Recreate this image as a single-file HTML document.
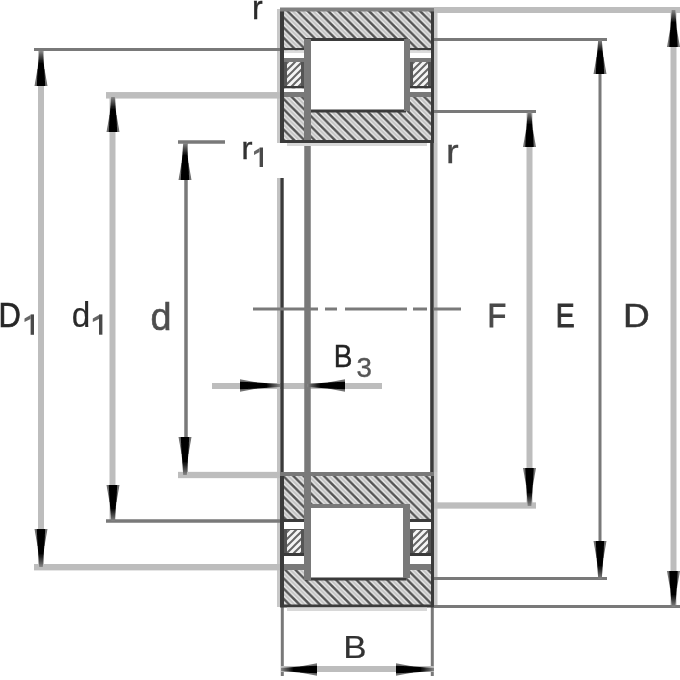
<!DOCTYPE html>
<html><head><meta charset="utf-8"><style>
html,body{margin:0;padding:0;background:#fff;}
svg{display:block;}
text{font-family:"Liberation Sans",sans-serif;}
</style></head><body>
<svg width="680" height="680" viewBox="0 0 680 680">
<defs>
<pattern id="h1" patternUnits="userSpaceOnUse" width="10.2" height="10.2" patternTransform="translate(1,0)">
<rect width="10.2" height="10.2" fill="#f4f4f4"/>
<path d="M-3,2.0999999999999996 L8.1,13.2 M2.0999999999999996,-3 L13.2,8.1" stroke="#c4c4c4" stroke-width="2.2"/>
<path d="M-3,-3 L13.2,13.2 M-3,7.199999999999999 L3,13.2 M7.199999999999999,-3 L13.2,3" stroke="#555" stroke-width="2.5"/>
</pattern>
<pattern id="h2" patternUnits="userSpaceOnUse" width="7" height="7">
<rect width="7" height="7" fill="#f4f4f4"/>
<path d="M-2,9 L9,-2 M-2,2 L2,-2 M5,9 L9,5" stroke="#666" stroke-width="2"/>
</pattern>
<linearGradient id="gv_u" x1="0" y1="0" x2="0" y2="1"><stop offset="0" stop-color="#888"/><stop offset="0.35" stop-color="#000"/><stop offset="1" stop-color="#000"/></linearGradient>
<linearGradient id="gv_d" x1="0" y1="1" x2="0" y2="0"><stop offset="0" stop-color="#888"/><stop offset="0.35" stop-color="#000"/><stop offset="1" stop-color="#000"/></linearGradient>
<linearGradient id="gh_l" x1="0" y1="0" x2="1" y2="0"><stop offset="0" stop-color="#888"/><stop offset="0.35" stop-color="#000"/><stop offset="1" stop-color="#000"/></linearGradient>
<linearGradient id="gh_r" x1="1" y1="0" x2="0" y2="0"><stop offset="0" stop-color="#888"/><stop offset="0.35" stop-color="#000"/><stop offset="1" stop-color="#000"/></linearGradient>
<filter id="soft" x="-5%" y="-5%" width="110%" height="110%"><feGaussianBlur stdDeviation="0.4"/></filter>
<filter id="glob" x="0" y="0" width="680" height="680" filterUnits="userSpaceOnUse"><feGaussianBlur stdDeviation="0.45"/></filter>
</defs>
<rect width="680" height="680" fill="#fff"/>
<g filter="url(#glob)">
<g>
<rect x="277.00" y="9.00" width="3.00" height="134.00" fill="#c8c8c8"/>
<rect x="434.00" y="9.00" width="3.50" height="134.00" fill="#c8c8c8"/>
<rect x="277.00" y="472.00" width="3.00" height="135.00" fill="#c8c8c8"/>
<rect x="434.00" y="472.00" width="3.50" height="135.00" fill="#c8c8c8"/>
<rect x="38.00" y="51.00" width="6.00" height="515.00" fill="#bdbdbd"/>
<rect x="34.00" y="48.00" width="246.00" height="3.00" fill="#797979"/>
<rect x="34.00" y="564.00" width="246.00" height="6.40" fill="#bdbdbd"/>
<rect x="109.50" y="97.00" width="6.00" height="423.00" fill="#bdbdbd"/>
<rect x="106.00" y="92.05" width="174.00" height="6.50" fill="#bdbdbd"/>
<rect x="106.00" y="519.25" width="174.00" height="3.50" fill="#797979"/>
<rect x="184.25" y="143.00" width="3.50" height="331.00" fill="#797979"/>
<rect x="178.00" y="140.25" width="47.00" height="3.50" fill="#797979"/>
<rect x="178.00" y="471.85" width="102.00" height="6.30" fill="#bdbdbd"/>
<rect x="526.50" y="112.00" width="6.00" height="394.00" fill="#bdbdbd"/>
<rect x="434.00" y="110.00" width="102.00" height="3.00" fill="#797979"/>
<rect x="434.00" y="502.35" width="102.00" height="6.30" fill="#bdbdbd"/>
<rect x="598.50" y="40.00" width="3.00" height="539.00" fill="#797979"/>
<rect x="434.00" y="38.00" width="173.00" height="3.00" fill="#797979"/>
<rect x="434.00" y="577.00" width="173.00" height="3.00" fill="#797979"/>
<rect x="670.50" y="10.00" width="6.00" height="597.00" fill="#bdbdbd"/>
<rect x="434.00" y="7.00" width="246.00" height="6.00" fill="#bdbdbd"/>
<rect x="434.00" y="605.00" width="246.00" height="3.00" fill="#797979"/>
<rect x="212.00" y="383.00" width="170.00" height="6.00" fill="#bdbdbd"/>
<rect x="277.00" y="178.00" width="3.00" height="294.00" fill="#c2c2c2"/>
<rect x="280.30" y="178.00" width="3.40" height="294.00" fill="#3a3a3a"/>
<rect x="304.25" y="143.00" width="6.50" height="329.00" fill="#797979"/>
<rect x="430.20" y="143.00" width="3.60" height="329.00" fill="#3a3a3a"/>
<rect x="433.90" y="143.00" width="3.60" height="329.00" fill="#c4c4c4"/>
<rect x="280.80" y="607.00" width="3.00" height="69.00" fill="#797979"/>
<rect x="430.80" y="607.00" width="3.00" height="69.00" fill="#797979"/>
<rect x="281.00" y="666.00" width="153.00" height="6.00" fill="#bdbdbd"/>
<rect x="253.00" y="307.50" width="65.00" height="3.00" fill="#7a7a7a"/>
<rect x="325.00" y="307.50" width="12.00" height="3.00" fill="#7a7a7a"/>
<rect x="345.00" y="307.50" width="62.00" height="3.00" fill="#7a7a7a"/>
<rect x="413.00" y="307.50" width="14.00" height="3.00" fill="#7a7a7a"/>
<rect x="434.00" y="307.50" width="27.00" height="3.00" fill="#7a7a7a"/>
</g>
<g>
<rect x="280.00" y="8.00" width="154.00" height="135.00" fill="url(#h1)"/>
<rect x="305.00" y="39.00" width="101.00" height="72.00" fill="#ffffff"/>
<rect x="305.00" y="38.00" width="101.00" height="3.00" fill="#3a3a3a"/>
<rect x="305.00" y="109.50" width="101.00" height="3.00" fill="#3a3a3a"/>
<rect x="304.00" y="39.00" width="7.00" height="104.00" fill="#797979"/>
<rect x="404.00" y="39.00" width="6.00" height="72.00" fill="#797979"/>
<rect x="284.00" y="48.00" width="20.00" height="2.50" fill="#3a3a3a"/>
<rect x="284.00" y="50.50" width="20.00" height="7.50" fill="#ffffff"/>
<rect x="284.00" y="50.50" width="20.00" height="2.50" fill="#dcdcdc"/>
<rect x="284.00" y="58.00" width="20.00" height="4.00" fill="#797979"/>
<rect x="284.00" y="62.00" width="20.00" height="24.00" fill="#555"/>
<rect x="287.00" y="62.00" width="14.00" height="24.00" fill="url(#h2)"/>
<rect x="284.00" y="86.00" width="20.00" height="2.50" fill="#3a3a3a"/>
<rect x="284.00" y="88.50" width="20.00" height="3.50" fill="#ffffff"/>
<rect x="284.00" y="92.00" width="20.00" height="5.00" fill="#797979"/>
<rect x="410.00" y="48.00" width="21.00" height="2.50" fill="#3a3a3a"/>
<rect x="410.00" y="50.50" width="21.00" height="7.50" fill="#ffffff"/>
<rect x="410.00" y="50.50" width="21.00" height="2.50" fill="#dcdcdc"/>
<rect x="410.00" y="58.00" width="21.00" height="4.00" fill="#797979"/>
<rect x="410.00" y="62.00" width="21.00" height="24.00" fill="#555"/>
<rect x="413.00" y="62.00" width="15.00" height="24.00" fill="url(#h2)"/>
<rect x="410.00" y="86.00" width="21.00" height="2.50" fill="#3a3a3a"/>
<rect x="410.00" y="88.50" width="21.00" height="3.50" fill="#ffffff"/>
<rect x="410.00" y="92.00" width="21.00" height="5.00" fill="#797979"/>
<rect x="280.00" y="9.00" width="4.00" height="134.00" fill="#3a3a3a"/>
<rect x="431.00" y="9.00" width="3.00" height="134.00" fill="#3a3a3a"/>
<rect x="280.00" y="7.50" width="154.00" height="4.00" fill="#808080"/>
<rect x="280.00" y="140.00" width="154.00" height="3.00" fill="#3a3a3a"/>
<rect x="287.00" y="143.00" width="140.00" height="3.00" fill="#d8d8d8"/>
<rect x="280.00" y="472.00" width="154.00" height="135.00" fill="url(#h1)"/>
<rect x="310.00" y="508.00" width="94.00" height="70.00" fill="#ffffff"/>
<rect x="305.00" y="504.00" width="101.00" height="4.00" fill="#797979"/>
<rect x="305.00" y="577.50" width="101.00" height="3.00" fill="#3a3a3a"/>
<rect x="304.00" y="472.00" width="7.00" height="108.00" fill="#797979"/>
<rect x="403.00" y="504.00" width="7.00" height="74.00" fill="#797979"/>
<rect x="284.00" y="519.00" width="20.00" height="3.00" fill="#3a3a3a"/>
<rect x="284.00" y="522.00" width="20.00" height="7.00" fill="#ffffff"/>
<rect x="284.00" y="529.00" width="20.00" height="26.00" fill="#555"/>
<rect x="287.00" y="530.00" width="14.00" height="23.00" fill="url(#h2)"/>
<rect x="284.00" y="553.00" width="20.00" height="3.00" fill="#3a3a3a"/>
<rect x="284.00" y="556.00" width="20.00" height="8.00" fill="#ffffff"/>
<rect x="284.00" y="564.00" width="20.00" height="6.00" fill="#797979"/>
<rect x="410.00" y="519.00" width="21.00" height="3.00" fill="#3a3a3a"/>
<rect x="410.00" y="522.00" width="21.00" height="7.00" fill="#ffffff"/>
<rect x="410.00" y="529.00" width="21.00" height="26.00" fill="#555"/>
<rect x="413.00" y="530.00" width="15.00" height="23.00" fill="url(#h2)"/>
<rect x="410.00" y="553.00" width="21.00" height="3.00" fill="#3a3a3a"/>
<rect x="410.00" y="556.00" width="21.00" height="8.00" fill="#ffffff"/>
<rect x="410.00" y="564.00" width="21.00" height="6.00" fill="#797979"/>
<rect x="280.00" y="472.00" width="4.00" height="135.00" fill="#3a3a3a"/>
<rect x="431.00" y="472.00" width="3.00" height="135.00" fill="#3a3a3a"/>
<rect x="280.00" y="472.00" width="154.00" height="4.00" fill="#797979"/>
<rect x="280.00" y="604.50" width="154.00" height="3.00" fill="#3a3a3a"/>
<rect x="287.00" y="607.50" width="140.00" height="3.50" fill="#d8d8d8"/>
</g>
<g filter="url(#soft)">
<polygon points="37.50,69.00 44.50,69.00 47.50,86.00 34.50,86.00" fill="#707070"/>
<polygon points="39.20,51.00 42.80,51.00 44.60,73.00 45.20,86.00 36.80,86.00 37.40,73.00" fill="url(#gv_u)"/>
<polygon points="37.50,546.00 44.50,546.00 47.50,529.00 34.50,529.00" fill="#707070"/>
<polygon points="39.20,567.00 42.80,567.00 44.60,542.00 45.20,529.00 36.80,529.00 37.40,542.00" fill="url(#gv_d)"/>
<polygon points="109.50,115.00 116.50,115.00 119.50,132.00 106.50,132.00" fill="#707070"/>
<polygon points="111.20,97.00 114.80,97.00 116.60,119.00 117.20,132.00 108.80,132.00 109.40,119.00" fill="url(#gv_u)"/>
<polygon points="109.50,502.00 116.50,502.00 119.50,485.00 106.50,485.00" fill="#707070"/>
<polygon points="111.20,521.00 114.80,521.00 116.60,498.00 117.20,485.00 108.80,485.00 109.40,498.00" fill="url(#gv_d)"/>
<polygon points="181.50,163.00 188.50,163.00 191.50,180.00 178.50,180.00" fill="#707070"/>
<polygon points="183.20,143.00 186.80,143.00 188.60,167.00 189.20,180.00 180.80,180.00 181.40,167.00" fill="url(#gv_u)"/>
<polygon points="181.50,454.00 188.50,454.00 191.50,437.00 178.50,437.00" fill="#707070"/>
<polygon points="183.20,475.00 186.80,475.00 188.60,450.00 189.20,437.00 180.80,437.00 181.40,450.00" fill="url(#gv_d)"/>
<polygon points="526.00,130.00 533.00,130.00 536.00,147.00 523.00,147.00" fill="#707070"/>
<polygon points="527.70,112.00 531.30,112.00 533.10,134.00 533.70,147.00 525.30,147.00 525.90,134.00" fill="url(#gv_u)"/>
<polygon points="526.00,485.00 533.00,485.00 536.00,468.00 523.00,468.00" fill="#707070"/>
<polygon points="527.70,506.00 531.30,506.00 533.10,481.00 533.70,468.00 525.30,468.00 525.90,481.00" fill="url(#gv_d)"/>
<polygon points="596.50,57.00 603.50,57.00 606.50,74.00 593.50,74.00" fill="#707070"/>
<polygon points="598.20,40.00 601.80,40.00 603.60,61.00 604.20,74.00 595.80,74.00 596.40,61.00" fill="url(#gv_u)"/>
<polygon points="596.50,558.00 603.50,558.00 606.50,541.00 593.50,541.00" fill="#707070"/>
<polygon points="598.20,579.00 601.80,579.00 603.60,554.00 604.20,541.00 595.80,541.00 596.40,554.00" fill="url(#gv_d)"/>
<polygon points="670.00,30.00 677.00,30.00 680.00,47.00 667.00,47.00" fill="#707070"/>
<polygon points="671.70,10.00 675.30,10.00 677.10,34.00 677.70,47.00 669.30,47.00 669.90,34.00" fill="url(#gv_u)"/>
<polygon points="670.00,588.00 677.00,588.00 680.00,571.00 667.00,571.00" fill="#707070"/>
<polygon points="671.70,607.00 675.30,607.00 677.10,584.00 677.70,571.00 669.30,571.00 669.90,584.00" fill="url(#gv_d)"/>
<polygon points="300.00,666.50 300.00,672.50 317.00,675.70 317.00,663.30" fill="#707070"/>
<polygon points="281.00,668.00 281.00,671.00 304.00,672.70 317.00,673.30 317.00,665.70 304.00,666.30" fill="url(#gh_l)"/>
<polygon points="413.00,666.50 413.00,672.50 396.00,675.70 396.00,663.30" fill="#707070"/>
<polygon points="434.00,668.00 434.00,671.00 409.00,672.70 396.00,673.30 396.00,665.70 409.00,666.30" fill="url(#gh_r)"/>
<polygon points="257.00,382.50 257.00,388.50 240.00,391.70 240.00,379.30" fill="#707070"/>
<polygon points="280.00,384.00 280.00,387.00 253.00,388.70 240.00,389.30 240.00,381.70 253.00,382.30" fill="url(#gh_r)"/>
<polygon points="328.00,382.50 328.00,388.50 345.00,391.70 345.00,379.30" fill="#707070"/>
<polygon points="307.00,384.00 307.00,387.00 332.00,388.70 345.00,389.30 345.00,381.70 332.00,382.30" fill="url(#gh_l)"/>
</g>
<g filter="url(#soft)">
<text transform="translate(-1.47,326.80) scale(0.860,1)" font-size="35.94" fill="#262626" stroke="#262626" stroke-width="0.7">D</text>
<rect x="30.60" y="314.40" width="3.40" height="20.40" fill="#4a4a4a"/>
<polygon points="30.60,314.90 30.60,318.90 24.50,321.90 24.50,318.40" fill="#666"/>
<text transform="translate(71.67,326.66) scale(0.972,1)" font-size="34.29" fill="#2a2a2a" stroke="#2a2a2a" stroke-width="0.2">d</text>
<rect x="99.00" y="314.40" width="3.40" height="20.30" fill="#4a4a4a"/>
<polygon points="99.00,314.90 99.00,318.90 92.80,321.90 92.80,318.40" fill="#666"/>
<text transform="translate(150.49,329.62) scale(0.992,1)" font-size="38.10" fill="#4e4e4e" stroke="#4e4e4e" stroke-width="0.6">d</text>
<text transform="translate(487.55,326.50) scale(0.899,1)" font-size="34.06" fill="#484848" stroke="#484848" stroke-width="1.0">F</text>
<text transform="translate(555.74,327.00) scale(0.848,1)" font-size="33.33" fill="#333" stroke="#333" stroke-width="1.0">E</text>
<text transform="translate(623.04,326.50) scale(1.134,1)" font-size="32.61" fill="#333" stroke="#333" stroke-width="0.5">D</text>
<text transform="translate(333.76,367.40) scale(0.904,1)" font-size="31.01" fill="#222" stroke="#222" stroke-width="0.4">B</text>
<text transform="translate(356.39,376.73) scale(1.007,1)" font-size="27.46" fill="#555" stroke="#555" stroke-width="0.4">3</text>
<text transform="translate(343.20,658.00) scale(1.122,1)" font-size="31.16" fill="#333" stroke="#333" stroke-width="0.2">B</text>
<text transform="translate(251.92,19.30) scale(0.944,1)" font-size="33.89" fill="#2a2a2a" stroke="#2a2a2a" stroke-width="0.4">r</text>
<text transform="translate(241.29,159.00) scale(1.055,1)" font-size="32.22" fill="#333" stroke="#333" stroke-width="0.3">r</text>
<rect x="259.60" y="147.50" width="3.40" height="19.50" fill="#4a4a4a"/>
<polygon points="259.60,148.00 259.60,152.00 254.00,155.00 254.00,151.50" fill="#666"/>
<text transform="translate(446.03,162.50) scale(1.140,1)" font-size="33.33" fill="#444" stroke="#444" stroke-width="0.3">r</text>
</g>
</g>
</svg>
</body></html>
